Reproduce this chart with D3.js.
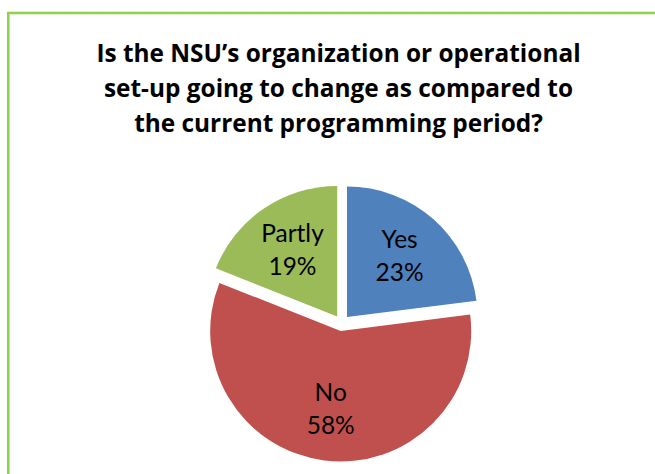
<!DOCTYPE html>
<html>
<head>
<meta charset="utf-8">
<script src="https://cdn.jsdelivr.net/npm/d3@7"></script>
<style>
  html, body { margin: 0; padding: 0; background: #fff; }
  svg { display: block; }
</style>
</head>
<body>
<svg id="chart" width="655" height="474"></svg>
<script>
const titleLines = [
  "Is the NSU\u2019s organization or operational",
  "set-up going to change as compared to",
  "the current programming period?"
];
const categories = ["Yes", "No", "Partly"];
const values = [23, 58, 19];
const colors = ["#4F81BD", "#C0504D", "#9BBB59"];

const svg = d3.select("#chart");

// chart area border (extends past right/bottom of view)
svg.append("rect")
  .attr("x", 8.3).attr("y", 13)
  .attr("width", 700).attr("height", 500)
  .attr("fill", "#fff")
  .attr("stroke", "#92D050")
  .attr("stroke-width", 2.6);

// title
const title = svg.append("text")
  .attr("text-anchor", "middle")
  .attr("font-family", "'Open Sans', Lato, sans-serif")
  .attr("font-weight", "bold")
  .attr("font-size", 24.4)
  .attr("fill", "#000");
titleLines.forEach((t, i) => {
  title.append("tspan")
    .attr("x", 338.5)
    .attr("y", 62 + i * 35)
    .text(t);
});

// pie
const cx = 341.7, cy = 323, r = 130.5, explode = 8;
const pie = d3.pie().sort(null).value(d => d.value);
const data = pie(categories.map((c, i) => ({ name: c, value: values[i], color: colors[i] })));
const arc = d3.arc().innerRadius(0).outerRadius(r);
const labelArc = d3.arc().innerRadius(r * 0.61).outerRadius(r * 0.61);

const g = svg.append("g").attr("transform", `translate(${cx},${cy})`);
const slices = g.selectAll("g.slice").data(data).enter().append("g")
  .attr("class", "slice")
  .attr("transform", d => {
    const a = (d.startAngle + d.endAngle) / 2;
    return `translate(${explode * Math.sin(a)},${-explode * Math.cos(a)})`;
  });

slices.append("path")
  .attr("d", arc)
  .attr("fill", d => d.data.color);

const total = d3.sum(values);
const lab = slices.append("text")
  .attr("text-anchor", "middle")
  .attr("font-family", "Lato, 'Open Sans', sans-serif")
  .attr("font-size", 24.5)
  .attr("fill", "#000")
  .attr("transform", d => `translate(${labelArc.centroid(d)})`);
lab.append("tspan").attr("x", 0).attr("y", -9).text(d => d.data.name);
lab.append("tspan").attr("x", 0).attr("y", 24)
  .text(d => Math.round(d.data.value / total * 100) + "%");
</script>
</body>
</html>
